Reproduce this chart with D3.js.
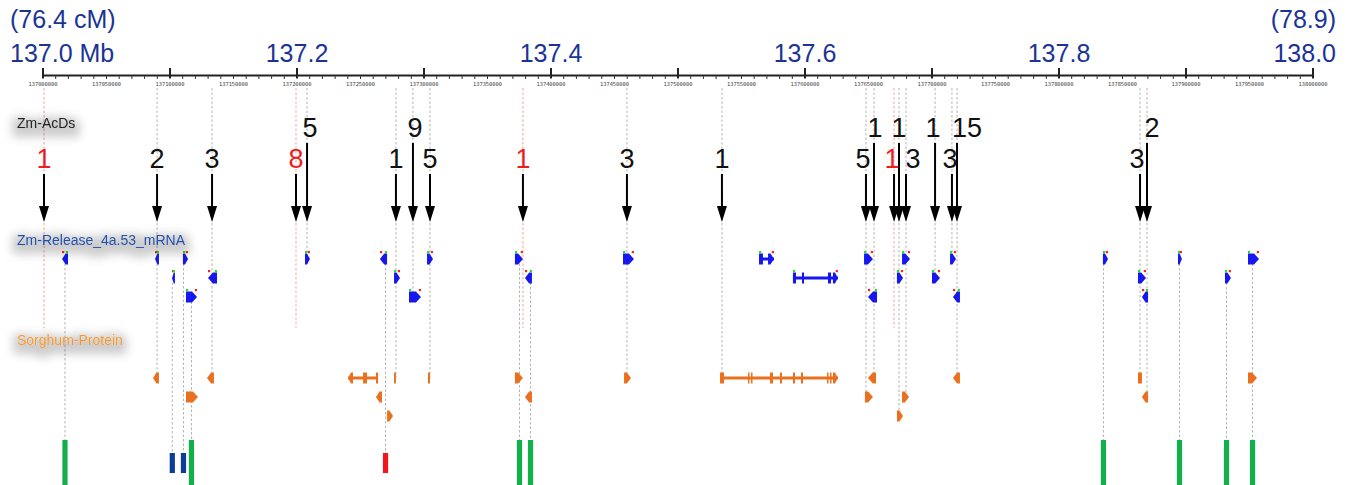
<!DOCTYPE html>
<html>
<head>
<meta charset="utf-8">
<script src="https://cdn.jsdelivr.net/npm/d3@7"></script>
<style>
  body { margin: 0; background: #fff; }
  svg { display: block; }
</style>
</head>
<body>
<svg id="chart" width="1351" height="485"></svg>
<script>
// ---- Region ----
const regionMb = [137.0, 138.0];
const regionCM = ["(76.4 cM)", "(78.9)"];
const regionLabels = ["137.0 Mb", "138.0"];
const labelledTicks = [137.2, 137.4, 137.6, 137.8];

// ---- Zm-AcDs insertion sites: position (Mb), count, highlighted ----
const insertPos = [137.0012, 137.0902, 137.1335, 137.1996, 137.2083, 137.2783, 137.2917,
  137.3051, 137.3783, 137.4602, 137.5350, 137.6484, 137.6547, 137.6705, 137.6744,
  137.6799, 137.7028, 137.7161, 137.7201, 137.8642, 137.8697];
const insertCount = [1, 2, 3, 8, 5, 1, 9, 5, 1, 3, 1, 5, 1, 1, 1, 3, 1, 3, 15, 3, 2];
const insertHighlight = [true, false, false, true, false, false, false, false, true, false, false,
  false, false, true, false, false, false, false, false, false, false];
// label tier (0 = upper, 1 = lower) and horizontal nudge of the number
const labelTier = [1, 1, 1, 1, 0, 1, 0, 1, 1, 1, 1, 1, 0, 1, 0, 1, 0, 1, 0, 1, 0];
const labelNudge = [0, 0, 0, 0, 3, 0, 2, 0, 0, 0, 0, -3, 1, -2, 0, 7, -2, -2, 10, -3, 5];

// ---- Zm-Release_4a.53 mRNA models: [start, end, strand, lane] ----
const mrna = [
  [137.0154, 137.0201, -1, 0], [137.0886, 137.0917, -1, 0], [137.1106, 137.1146, 1, 0],
  [137.2067, 137.2106, 1, 0], [137.2657, 137.2713, -1, 0], [137.3028, 137.3075, 1, 0],
  [137.3720, 137.3783, 1, 0], [137.4571, 137.4657, 1, 0], [137.5642, 137.5760, 1, 0],
  [137.6469, 137.6539, 1, 0], [137.6768, 137.6831, 1, 0], [137.7146, 137.7193, 1, 0],
  [137.8350, 137.8390, 1, 0], [137.8941, 137.8972, 1, 0], [137.9492, 137.9579, 1, 0],
  [137.1020, 137.1043, -1, 1], [137.1303, 137.1374, -1, 1], [137.2768, 137.2815, 1, 1],
  [137.3799, 137.3854, -1, 1], [137.5909, 137.6263, 1, 1], [137.6728, 137.6776, 1, 1],
  [137.7004, 137.7067, 1, 1], [137.8626, 137.8689, 1, 1], [137.9311, 137.9358, 1, 1],
  [137.1130, 137.1217, 1, 2], [137.2886, 137.2980, 1, 2], [137.6500, 137.6571, -1, 2],
  [137.7169, 137.7224, -1, 2], [137.8657, 137.8705, -1, 2]
];
// exon structure for the multi-exon models, keyed by model start
const mrnaExons = {
  "137.5642": [[137.5642, 137.5673], [137.5713, 137.5760]],
  "137.5909": [[137.5909, 137.5933], [137.5980, 137.5996], [137.6185, 137.6209], [137.6224, 137.6263]]
};

// ---- Sorghum protein alignments: [start, end, strand, lane] ----
const protein = [
  [137.0870, 137.0917, -1, 0], [137.1295, 137.1350, -1, 0], [137.2406, 137.2642, -1, 0],
  [137.2768, 137.2783, 0, 0], [137.3035, 137.3051, 0, 0], [137.3720, 137.3783, 1, 0],
  [137.4579, 137.4634, 1, 0], [137.5335, 137.6263, 1, 0], [137.6500, 137.6563, -1, 0],
  [137.7169, 137.7224, -1, 0], [137.8626, 137.8657, 0, 0], [137.9492, 137.9563, 1, 0],
  [137.1130, 137.1224, 1, 1], [137.2626, 137.2673, -1, 1], [137.3799, 137.3854, -1, 1],
  [137.6476, 137.6539, 1, 1], [137.6768, 137.6823, 1, 1], [137.8657, 137.8705, -1, 1],
  [137.2713, 137.2760, 1, 2], [137.6728, 137.6776, 1, 2]
];
const proteinExons = {
  "137.2406": [[137.2406, 137.2445], [137.2524, 137.2555], [137.2626, 137.2642]],
  "137.5335": [[137.5335, 137.5366], [137.5555, 137.5563], [137.5579, 137.5587],
    [137.5728, 137.5752], [137.5807, 137.5823], [137.5909, 137.5925], [137.5972, 137.5988],
    [137.6177, 137.6185], [137.6201, 137.6209], [137.6224, 137.6263]]
};

// ---- Gene markers along the bottom: position and class ----
const markerPos = [137.0177, 137.1022, 137.1110, 137.1173, 137.2701, 137.3756, 137.3843,
  137.8354, 137.8953, 137.9323, 137.9528];
const markerClass = ["A", "B", "B", "A", "C", "A", "A", "A", "A", "A", "A"];

// ---- Drawing ----
const svg = d3.select("#chart");
const x = d3.scaleLinear().domain(regionMb).range([42.5, 1312.5]);

const FONT = "'Liberation Sans', Arial, Helvetica, sans-serif";
const AXIS_Y = 75;
const GUIDE_TOP = 88;
const mrnaLaneY = [259, 278, 297];
const protLaneY = [378, 397, 416];
const FEAT_H = 11;
const BLUE = "#1616ee", ORANGE = "#e8701e";
const markerStyle = {
  A: { color: "#12b04a", y0: 440, y1: 485 },
  B: { color: "#0c3c9c", y0: 453, y1: 473 },
  C: { color: "#f2161b", y0: 453, y1: 473 }
};

// soft halo behind track titles
const defs = svg.append("defs");
const f = defs.append("filter").attr("id", "halo")
  .attr("x", "-30%").attr("y", "-120%").attr("width", "160%").attr("height", "340%");
f.append("feMorphology").attr("in", "SourceAlpha").attr("operator", "dilate").attr("radius", 5).attr("result", "d");
f.append("feGaussianBlur").attr("in", "d").attr("stdDeviation", 5).attr("result", "b");
f.append("feOffset").attr("in", "b").attr("dy", 4).attr("result", "o");
f.append("feFlood").attr("flood-color", "#000").attr("flood-opacity", 0.2).attr("result", "c");
f.append("feComposite").attr("in", "c").attr("in2", "o").attr("operator", "in").attr("result", "s");
const fm = f.append("feMerge");
fm.append("feMergeNode").attr("in", "s");
fm.append("feMergeNode").attr("in", "SourceGraphic");

// ---- Axis ----
const minorTicks = d3.range(0, 101).map(i => 137 + i / 100);
const tenthTicks = d3.range(0, 11).map(i => 137 + i / 10);
const labelTicks = d3.range(0, 21).map(i => 137 + i / 20);

const gMinor = svg.append("g").attr("transform", `translate(0,${AXIS_Y})`)
  .call(d3.axisBottom(x).tickValues(minorTicks).tickSize(4).tickSizeOuter(0).tickFormat(""));
gMinor.select(".domain").attr("stroke", "#222").attr("stroke-width", 2);
gMinor.selectAll(".tick line").attr("stroke", "#333").attr("stroke-width", 1);

const gMajor = svg.append("g").attr("transform", `translate(0,${AXIS_Y})`)
  .call(d3.axisTop(x).tickValues(tenthTicks).tickSize(7).tickFormat(""));
gMajor.select(".domain").remove();
gMajor.selectAll(".tick line").attr("stroke", "#222").attr("stroke-width", 2).attr("y2", -7).attr("y1", 3);

const gSmall = svg.append("g").attr("transform", `translate(0,${AXIS_Y})`)
  .call(d3.axisBottom(x).tickValues(labelTicks).tickSize(0).tickPadding(7)
    .tickFormat(d => String(Math.round(d * 1e6))));
gSmall.select(".domain").remove();
gSmall.selectAll("text").attr("font-family", "'DejaVu Sans Mono', monospace")
  .attr("font-size", 5.4).attr("fill", "#444");

const gBig = svg.append("g").attr("transform", `translate(0,${AXIS_Y})`)
  .call(d3.axisTop(x).tickValues(labelledTicks).tickSize(0).tickPadding(13).tickFormat(d3.format(".1f")));
gBig.select(".domain").remove();
gBig.selectAll("text").attr("font-family", FONT).attr("font-size", 25).attr("fill", "#1b3494");

const endLabels = svg.append("g").attr("font-family", FONT).attr("font-size", 25).attr("fill", "#1b3494");
endLabels.append("text").attr("x", 10).attr("y", 28).text(regionCM[0]);
endLabels.append("text").attr("x", 10).attr("y", 62).text(regionLabels[0]);
endLabels.append("text").attr("x", 1336).attr("y", 28).attr("text-anchor", "end").text(regionCM[1]);
endLabels.append("text").attr("x", 1336).attr("y", 62).attr("text-anchor", "end").text(regionLabels[1]);

// ---- Guide lines ----
const feats = [
  ...mrna.map(d => ({ s: d[0], e: d[1], y: mrnaLaneY[d[3]] })),
  ...protein.map(d => ({ s: d[0], e: d[1], y: protLaneY[d[3]] }))
];
const tol = 0.5;
function overlapping(p) {
  const px = x(p);
  return feats.filter(f => x(f.s) - tol <= px && px <= x(f.e) + tol);
}
const guides = svg.append("g").attr("fill", "none").attr("stroke-dasharray", "2.5,2");
insertPos.forEach((p, i) => {
  let y1;
  if (insertHighlight[i]) y1 = 328;
  else {
    const hits = overlapping(p);
    y1 = hits.length ? d3.max(hits, h => h.y) : 328;
  }
  guides.append("line").attr("x1", x(p)).attr("x2", x(p)).attr("y1", GUIDE_TOP).attr("y2", y1)
    .attr("stroke", insertHighlight[i] ? "#f2a3a3" : "#b4b4b4").attr("stroke-width", 1);
});
markerPos.forEach((p, i) => {
  const hits = overlapping(p);
  const y0 = hits.length ? d3.min(hits, h => h.y) : GUIDE_TOP;
  guides.append("line").attr("x1", x(p)).attr("x2", x(p)).attr("y1", y0)
    .attr("y2", markerStyle[markerClass[i]].y0)
    .attr("stroke", "#b4b4b4").attr("stroke-width", 1);
});

// ---- Feature glyphs ----
function blockPath(x0, x1, strand, yc, h) {
  const t = yc - h / 2, b = yc + h / 2;
  const w = x1 - x0;
  if (strand === 0) return `M${x0},${t}H${x1}V${b}H${x0}Z`;
  const a = Math.min(5, w * 0.6);
  if (strand > 0)
    return `M${x0},${t}H${x1 - a}L${x1},${yc}L${x1 - a},${b}H${x0}Z`;
  return `M${x1},${t}H${x0 + a}L${x0},${yc}L${x0 + a},${b}H${x1}Z`;
}
function drawFeature(g, d, exonMap, laneY, color, withEnds) {
  const [s, e, strand, lane] = d;
  const yc = laneY[lane];
  const x0 = x(s), x1 = Math.max(x(e), x(s) + 1.5);
  const exons = exonMap[s.toFixed(4)];
  if (exons) {
    g.append("rect").attr("x", x0).attr("y", yc - 1.5).attr("width", x1 - x0).attr("height", 3).attr("fill", color);
    exons.forEach((ex, k) => {
      const ex0 = x(ex[0]), ex1 = Math.max(x(ex[1]), ex0 + 1.5);
      const isTip = (strand > 0 && k === exons.length - 1) || (strand < 0 && k === 0);
      g.append("path").attr("d", blockPath(ex0, ex1, isTip ? strand : 0, yc, FEAT_H)).attr("fill", color);
    });
  } else {
    g.append("path").attr("d", blockPath(x0, x1, strand, yc, FEAT_H)).attr("fill", color);
  }
  if (withEnds) {
    const t = yc - FEAT_H / 2 - 2.5;
    const left = strand < 0 ? "#ff2020" : "#22dd22";
    const right = strand < 0 ? "#22dd22" : "#ff2020";
    g.append("rect").attr("x", x0).attr("y", t).attr("width", 2.2).attr("height", 2.2).attr("fill", left);
    g.append("rect").attr("x", x1 - 2.2).attr("y", t).attr("width", 2.2).attr("height", 2.2).attr("fill", right);
  }
}
const gM = svg.append("g");
mrna.forEach(d => drawFeature(gM, d, mrnaExons, mrnaLaneY, BLUE, true));
const gP = svg.append("g");
protein.forEach(d => drawFeature(gP, d, proteinExons, protLaneY, ORANGE, false));

// ---- Bottom markers ----
svg.append("g").selectAll("rect").data(markerPos).join("rect")
  .attr("x", d => x(d) - 2.6)
  .attr("width", 5.2)
  .attr("y", (d, i) => markerStyle[markerClass[i]].y0)
  .attr("height", (d, i) => markerStyle[markerClass[i]].y1 - markerStyle[markerClass[i]].y0)
  .attr("fill", (d, i) => markerStyle[markerClass[i]].color);

// ---- Insertion arrows ----
const gA = svg.append("g");
const tierBase = [137, 168];
const shaftTop = [143, 174];
insertPos.forEach((p, i) => {
  const px = x(p);
  const tier = labelTier[i];
  gA.append("line").attr("x1", px).attr("x2", px).attr("y1", shaftTop[tier]).attr("y2", 209)
    .attr("stroke", "#000").attr("stroke-width", 2);
  gA.append("path").attr("d", `M${px - 5},206L${px + 5},206L${px},222Z`).attr("fill", "#000");
  gA.append("text").attr("x", px + labelNudge[i]).attr("y", tierBase[tier])
    .attr("text-anchor", "middle").attr("font-family", FONT).attr("font-size", 27)
    .attr("fill", insertHighlight[i] ? "#f01c1c" : "#111").text(insertCount[i]);
});

// ---- Track titles ----
const titles = [
  { text: "Zm-AcDs", y: 128, color: "#222" },
  { text: "Zm-Release_4a.53_mRNA", y: 245, color: "#2450a6" },
  { text: "Sorghum-Protein", y: 345, color: "#f39a38" }
];
svg.append("g").selectAll("text").data(titles).join("text")
  .attr("x", 17).attr("y", d => d.y)
  .attr("font-family", FONT).attr("font-size", 14)
  .attr("fill", d => d.color).attr("filter", "url(#halo)")
  .text(d => d.text);
</script>
</body>
</html>
